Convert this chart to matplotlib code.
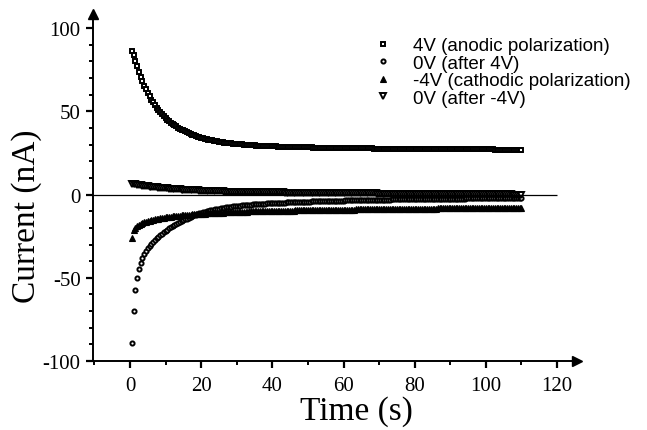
import numpy as np
import matplotlib
matplotlib.use("Agg")
import matplotlib.pyplot as plt
from matplotlib.ticker import MultipleLocator

plt.rcParams['axes.unicode_minus'] = False

# sampling times (s), one reading every 0.5 s
time = np.arange(0.5, 110.01, 0.5)

# 4V (anodic polarization)
i_anodic = [86.5, 84, 80.5, 77, 73.5, 70.5, 68, 65.5, 63.2, 61,
            59, 57.1, 55.4, 53.8, 52.3, 50.9, 49.6, 48.4, 47.2, 46.1,
            45.1, 44.2, 43.3, 42.5, 41.7, 41.0, 40.3, 39.7, 39.1, 38.5,
            37.9, 37.4, 36.9, 36.5, 36.0, 35.6, 35.2, 34.8, 34.4, 34.1,
            33.8, 33.5, 33.2, 33.0, 32.7, 32.5, 32.3, 32.1, 31.9, 31.7,
            31.5, 31.4, 31.2, 31.1, 30.9, 30.8, 30.7, 30.6, 30.5, 30.4,
            30.3, 30.2, 30.1, 30.0, 29.9, 29.8, 29.7, 29.7, 29.6, 29.5,
            29.4, 29.4, 29.3, 29.3, 29.2, 29.2, 29.1, 29.1, 29.0, 29.0,
            28.9, 28.9, 28.8, 28.8, 28.8, 28.7, 28.7, 28.7, 28.6, 28.6,
            28.5, 28.5, 28.5, 28.5, 28.4, 28.4, 28.4, 28.4, 28.3, 28.3,
            28.3, 28.3, 28.2, 28.2, 28.2, 28.2, 28.1, 28.1, 28.1, 28.1,
            28.0, 28.0, 28.0, 28.0, 28.0, 28.0, 27.9, 27.9, 27.9, 27.9,
            27.9, 27.9, 27.8, 27.8, 27.8, 27.8, 27.8, 27.8, 27.7, 27.7,
            27.7, 27.7, 27.7, 27.7, 27.7, 27.7, 27.6, 27.6, 27.6, 27.6,
            27.6, 27.6, 27.6, 27.6, 27.5, 27.5, 27.5, 27.5, 27.5, 27.5,
            27.5, 27.5, 27.5, 27.5, 27.4, 27.4, 27.4, 27.4, 27.4, 27.4,
            27.4, 27.4, 27.4, 27.4, 27.3, 27.3, 27.3, 27.3, 27.3, 27.3,
            27.3, 27.3, 27.3, 27.3, 27.3, 27.3, 27.2, 27.2, 27.2, 27.2,
            27.2, 27.2, 27.2, 27.2, 27.2, 27.2, 27.2, 27.2, 27.2, 27.2,
            27.1, 27.1, 27.1, 27.1, 27.1, 27.1, 27.1, 27.1, 27.1, 27.1,
            27.1, 27.1, 27.1, 27.1, 27.0, 27.0, 27.0, 27.0, 27.0, 27.0,
            27.0, 27.0, 27.0, 27.0, 27.0, 27.0, 27.0, 27.0, 27.0, 27.0]

# 0V (after 4V)
i_after_anodic = [-89, -70, -57.5, -50, -45, -41.3, -38.4, -36, -34, -32.3,
                  -30.8, -29.5, -28.3, -27.2, -26.2, -25.2, -24.3, -23.4, -22.6, -21.8,
                  -21.0, -20.3, -19.6, -19.0, -18.3, -17.7, -17.1, -16.5, -15.9, -15.4,
                  -14.9, -14.4, -13.9, -13.4, -12.9, -12.5, -12.1, -11.7, -11.3, -11.0,
                  -10.7, -10.4, -10.1, -9.8, -9.5, -9.3, -9.0, -8.8, -8.6, -8.4,
                  -8.2, -8.0, -7.8, -7.7, -7.5, -7.4, -7.2, -7.1, -6.9, -6.8,
                  -6.7, -6.6, -6.5, -6.4, -6.3, -6.2, -6.1, -6.0, -5.9, -5.8,
                  -5.7, -5.7, -5.6, -5.5, -5.4, -5.4, -5.3, -5.3, -5.2, -5.1,
                  -5.1, -5.0, -5.0, -4.9, -4.9, -4.8, -4.8, -4.7, -4.7, -4.6,
                  -4.6, -4.5, -4.5, -4.4, -4.4, -4.4, -4.3, -4.3, -4.2, -4.2,
                  -4.2, -4.1, -4.1, -4.1, -4.0, -4.0, -4.0, -3.9, -3.9, -3.9,
                  -3.8, -3.8, -3.8, -3.7, -3.7, -3.7, -3.6, -3.6, -3.6, -3.6,
                  -3.5, -3.5, -3.5, -3.5, -3.4, -3.4, -3.4, -3.4, -3.3, -3.3,
                  -3.3, -3.3, -3.2, -3.2, -3.2, -3.2, -3.1, -3.1, -3.1, -3.1,
                  -3.0, -3.0, -3.0, -3.0, -3.0, -3.0, -2.9, -2.9, -2.9, -2.9,
                  -2.9, -2.9, -2.8, -2.8, -2.8, -2.8, -2.8, -2.8, -2.7, -2.7,
                  -2.7, -2.7, -2.7, -2.7, -2.6, -2.6, -2.6, -2.6, -2.6, -2.6,
                  -2.6, -2.6, -2.5, -2.5, -2.5, -2.5, -2.5, -2.5, -2.5, -2.5,
                  -2.4, -2.4, -2.4, -2.4, -2.4, -2.4, -2.4, -2.4, -2.3, -2.3,
                  -2.3, -2.3, -2.3, -2.3, -2.3, -2.3, -2.3, -2.3, -2.2, -2.2,
                  -2.2, -2.2, -2.2, -2.2, -2.2, -2.2, -2.2, -2.2, -2.1, -2.1,
                  -2.1, -2.1, -2.1, -2.1, -2.1, -2.1, -2.1, -2.1, -2.0, -2.0]

# -4V (cathodic polarization)
i_cathodic = [-26, -21.5, -19.8, -18.8, -18.1, -17.5, -17.0, -16.6, -16.2, -15.9,
              -15.6, -15.3, -15.1, -14.8, -14.6, -14.4, -14.2, -14.0, -13.8, -13.7,
              -13.5, -13.4, -13.2, -13.1, -13.0, -12.9, -12.7, -12.6, -12.5, -12.4,
              -12.3, -12.2, -12.1, -12.0, -11.9, -11.8, -11.7, -11.7, -11.6, -11.5,
              -11.4, -11.4, -11.3, -11.2, -11.2, -11.1, -11.0, -11.0, -10.9, -10.9,
              -10.8, -10.8, -10.7, -10.7, -10.6, -10.6, -10.5, -10.5, -10.4, -10.4,
              -10.4, -10.3, -10.3, -10.3, -10.2, -10.2, -10.1, -10.1, -10.1, -10.1,
              -10.0, -10.0, -10.0, -10.0, -9.9, -9.9, -9.9, -9.9, -9.8, -9.8,
              -9.8, -9.8, -9.7, -9.7, -9.7, -9.7, -9.6, -9.6, -9.6, -9.6,
              -9.6, -9.6, -9.5, -9.5, -9.5, -9.5, -9.5, -9.5, -9.4, -9.4,
              -9.4, -9.4, -9.3, -9.3, -9.3, -9.3, -9.3, -9.3, -9.2, -9.2,
              -9.2, -9.2, -9.2, -9.2, -9.1, -9.1, -9.1, -9.1, -9.1, -9.1,
              -9.0, -9.0, -9.0, -9.0, -9.0, -9.0, -8.9, -8.9, -8.9, -8.9,
              -8.9, -8.9, -8.9, -8.9, -8.8, -8.8, -8.8, -8.8, -8.8, -8.8,
              -8.7, -8.7, -8.7, -8.7, -8.7, -8.7, -8.7, -8.7, -8.6, -8.6,
              -8.6, -8.6, -8.6, -8.6, -8.6, -8.6, -8.5, -8.5, -8.5, -8.5,
              -8.5, -8.5, -8.5, -8.5, -8.4, -8.4, -8.4, -8.4, -8.4, -8.4,
              -8.4, -8.4, -8.3, -8.3, -8.3, -8.3, -8.3, -8.3, -8.3, -8.3,
              -8.2, -8.2, -8.2, -8.2, -8.2, -8.2, -8.2, -8.2, -8.1, -8.1,
              -8.1, -8.1, -8.1, -8.1, -8.1, -8.1, -8.0, -8.0, -8.0, -8.0,
              -8.0, -8.0, -8.0, -8.0, -7.9, -7.9, -7.9, -7.9, -7.9, -7.9,
              -7.9, -7.9, -7.8, -7.8, -7.8, -7.8, -7.8, -7.8, -7.8, -7.8]

# 0V (after -4V)
i_after_cathodic = [6.6, 6.4, 6.2, 6.0, 5.8, 5.6, 5.4, 5.3, 5.1, 5.0,
                    4.8, 4.7, 4.6, 4.4, 4.3, 4.2, 4.1, 4.0, 3.9, 3.8,
                    3.7, 3.6, 3.5, 3.4, 3.3, 3.3, 3.2, 3.1, 3.0, 3.0,
                    2.9, 2.8, 2.7, 2.7, 2.6, 2.6, 2.5, 2.5, 2.4, 2.4,
                    2.3, 2.3, 2.2, 2.2, 2.1, 2.1, 2.0, 2.0, 2.0, 2.0,
                    1.9, 1.9, 1.8, 1.8, 1.8, 1.8, 1.7, 1.7, 1.7, 1.7,
                    1.6, 1.6, 1.6, 1.6, 1.5, 1.5, 1.5, 1.5, 1.5, 1.5,
                    1.4, 1.4, 1.4, 1.4, 1.4, 1.4, 1.3, 1.3, 1.3, 1.3,
                    1.3, 1.3, 1.3, 1.3, 1.3, 1.3, 1.2, 1.2, 1.2, 1.2,
                    1.2, 1.2, 1.2, 1.2, 1.1, 1.1, 1.1, 1.1, 1.1, 1.1,
                    1.0, 1.0, 1.0, 1.0, 1.0, 1.0, 1.0, 1.0, 0.9, 0.9,
                    0.9, 0.9, 0.9, 0.9, 0.9, 0.9, 0.9, 0.9, 0.8, 0.8,
                    0.8, 0.8, 0.8, 0.8, 0.8, 0.8, 0.8, 0.8, 0.7, 0.7,
                    0.7, 0.7, 0.7, 0.7, 0.7, 0.7, 0.7, 0.7, 0.6, 0.6,
                    0.6, 0.6, 0.6, 0.6, 0.6, 0.6, 0.6, 0.6, 0.6, 0.6,
                    0.5, 0.5, 0.5, 0.5, 0.5, 0.5, 0.5, 0.5, 0.5, 0.5,
                    0.5, 0.5, 0.4, 0.4, 0.4, 0.4, 0.4, 0.4, 0.4, 0.4,
                    0.4, 0.4, 0.4, 0.4, 0.3, 0.3, 0.3, 0.3, 0.3, 0.3,
                    0.3, 0.3, 0.3, 0.3, 0.3, 0.3, 0.2, 0.2, 0.2, 0.2,
                    0.2, 0.2, 0.2, 0.2, 0.2, 0.2, 0.2, 0.2, 0.2, 0.2,
                    0.1, 0.1, 0.1, 0.1, 0.1, 0.1, 0.1, 0.1, 0.1, 0.1,
                    0.1, 0.1, 0.1, 0.1, 0.0, 0.0, 0.0, 0.0, 0.0, 0.0]

labels = ["4V (anodic polarization)", "0V (after 4V)",
          "-4V (cathodic polarization)", "0V (after -4V)"]

W, H = 647, 431
fig = plt.figure(figsize=(W / 100, H / 100), dpi=100)
ax = fig.add_axes([93 / W, (H - 362) / H, 484 / W, 347 / H])

ms = 2.8
ax.plot(time, i_anodic, 's', ms=ms, mfc='white', mec='black', mew=1.4, label=labels[0])
ax.plot(time, i_after_anodic, 'o', ms=ms + 0.2, mfc='white', mec='black', mew=1.4, label=labels[1])
ax.plot(time, i_cathodic, '^', ms=ms + 1.4, mfc='black', mec='black', mew=0.8, label=labels[2])
ax.plot(time, i_after_cathodic, 'v', ms=ms + 1.0, mfc='white', mec='black', mew=1.4, label=labels[3])

x_lo, x_hi = -10.4, 125.6
ax.hlines(0, x_lo, 120, color='black', lw=0.9)
ax.set_xlim(x_lo, x_hi)
ax.set_ylim(-100, 108.5)

for s in ['top', 'right']:
    ax.spines[s].set_visible(False)
for s in ['left', 'bottom']:
    ax.spines[s].set_linewidth(1.4)

# arrow heads on the axes
ax.plot(1, -100, '>k', ms=7, transform=ax.get_yaxis_transform(), clip_on=False)
ax.plot(x_lo, 1, '^k', ms=7, transform=ax.get_xaxis_transform(), clip_on=False)

ax.xaxis.set_minor_locator(MultipleLocator(10))
ax.yaxis.set_minor_locator(MultipleLocator(10))
ax.set_xticks([0, 20, 40, 60, 80, 100, 120])
ax.set_yticks([-100, -50, 0, 50, 100])
ax.tick_params(which='major', direction='out', length=5, width=1.6, labelsize=15, pad=4)
ax.tick_params(which='minor', direction='out', length=3, width=1.4)
ax.tick_params(axis='x', which='major', pad=6)

serif = 'Liberation Serif'
for lab in ax.get_xticklabels() + ax.get_yticklabels():
    lab.set_fontfamily(serif)

ax.set_xlabel("Time (s)", fontsize=24, fontfamily=serif)
ax.set_ylabel("Current (nA)", fontsize=24, fontfamily=serif)
ax.xaxis.set_label_coords(0.545, -0.10)
ax.yaxis.set_label_coords(-0.105, 0.42)

leg = ax.legend(loc='upper left', bbox_to_anchor=(373.5 / W, 1 - 38 / H),
                bbox_transform=fig.transFigure, frameon=False, borderpad=0,
                borderaxespad=0, handlelength=1.0, handletextpad=1.1,
                labelspacing=0.02, numpoints=1,
                prop={'family': 'Liberation Sans', 'size': 13.5})

fig.savefig("out.png", dpi=100)
